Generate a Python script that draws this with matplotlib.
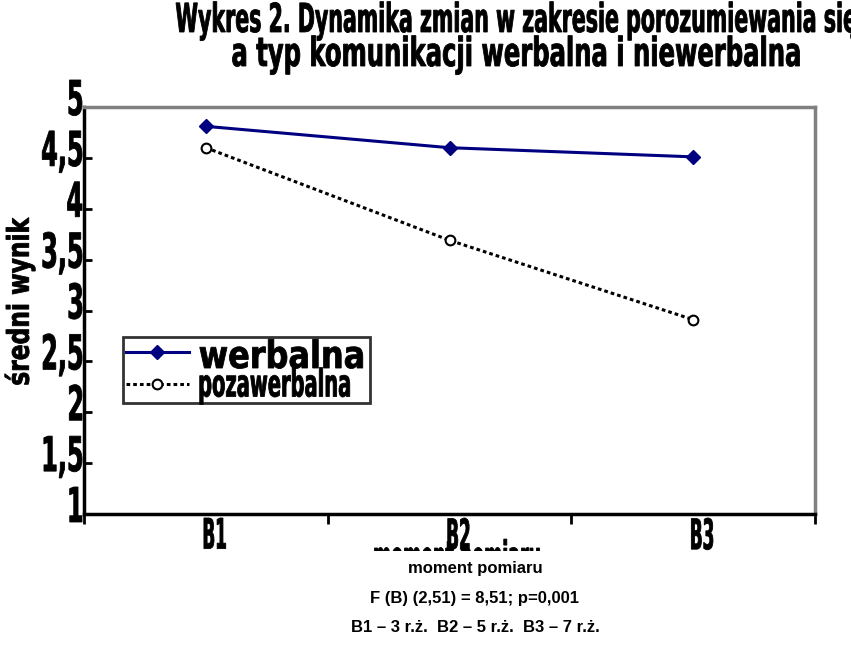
import matplotlib
matplotlib.use("Agg")
import matplotlib.pyplot as plt
from matplotlib.textpath import TextPath
from matplotlib.patches import PathPatch, Rectangle
from matplotlib.font_manager import FontProperties
from matplotlib.transforms import Affine2D

# data
categories = ["B1", "B2", "B3"]
series_names = ["werbalna", "pozawerbalna"]
werbalna = [4.81, 4.60, 4.51]
pozawerbalna = [4.60, 3.69, 2.91]
y_ticks = [1, 1.5, 2, 2.5, 3, 3.5, 4, 4.5, 5]
y_tick_labels = ["1", "1,5", "2", "2,5", "3", "3,5", "4", "4,5", "5"]
title_lines = ["Wykres 2. Dynamika zmian w zakresie porozumiewania się",
               "a typ komunikacji werbalna i niewerbalna"]
notes = ["moment pomiaru", "F (B) (2,51) = 8,51; p=0,001",
         "B1 – 3 r.ż.  B2 – 5 r.ż.  B3 – 7 r.ż."]

W, H = 851, 652
BOLD = FontProperties(family="DejaVu Sans", weight="bold")

fig = plt.figure(figsize=(W / 100, H / 100), dpi=100)


def squeezed(s, x, y, em, width=None, sx=0.5, ha="center", va="baseline",
             rot=0, z=5):
    # very narrow bold text, drawn as a path in pixel coords (y from top)
    tp = TextPath((0, 0), s, size=100, prop=BOLD)
    bb = tp.get_extents()
    k = em / 100
    if width is not None:
        sx = width / (bb.width * k)
    dx = {"left": bb.x0, "center": (bb.x0 + bb.x1) / 2, "right": bb.x1}[ha]
    dy = {"baseline": 0, "bottom": bb.y0, "center": (bb.y0 + bb.y1) / 2,
          "top": bb.y1}[va]
    tr = (Affine2D().translate(-dx, -dy).scale(k * sx, k).rotate_deg(rot)
          .translate(x, H - y))
    fig.add_artist(PathPatch(tp, transform=tr, fc="black", ec="black",
                             lw=0.6, zorder=z))


left, right, top, bottom = 84, 815, 107, 514
ax = fig.add_axes([left / W, 1 - bottom / H, (right - left) / W,
                   (bottom - top) / H])

x = range(len(categories))
ax.plot(x, werbalna, color="#000080", lw=2.2, marker="D", ms=7,
        label=series_names[0])
ax.plot(x, pozawerbalna, color="black", lw=2.2, ls=(0, (1.2, 1)),
        marker="o", ms=7, mfc="white", mec="black", mew=1.5,
        label=series_names[1])

ax.set_xlim(-0.5, 2.5)
ax.set_ylim(1, 5)
ax.set_xticks([-0.5, 0.5, 1.5, 2.5])
ax.set_yticks(y_ticks)
ax.set_xticklabels([])
ax.set_yticklabels([])
ax.tick_params(axis="x", length=7, width=2, direction="out", color="black")
ax.tick_params(axis="y", length=6, width=2, direction="in", color="black")

for side in ["top", "right"]:
    ax.spines[side].set_color("#808080")
    ax.spines[side].set_linewidth(2.5)
for side in ["left", "bottom"]:
    ax.spines[side].set_color("black")
    ax.spines[side].set_linewidth(2.5)

# tick labels, placed through the data transform
for v, lab in zip(y_ticks, y_tick_labels):
    ty = H - ax.transData.transform((0, v))[1]
    squeezed(lab, left - 2, ty + 8, 48, sx=0.5, ha="right")
for i, lab in enumerate(categories):
    tx = ax.transData.transform((i, 1))[0]
    squeezed(lab, tx + 9, 518, 42, sx=0.4, va="top")

# y axis label
squeezed("średni wynik", 20, 301, 30, width=167, va="center", rot=90)

# legend: frame and handles from matplotlib, text drawn narrow on top
leg = ax.legend(loc="center", bbox_to_anchor=(0.053, 0.262, 0.338, 0.184),
                mode="expand", prop={"size": 20}, frameon=True,
                fancybox=False, edgecolor="black", borderpad=0.1,
                handlelength=2.3, handletextpad=0.3, labelspacing=0.15,
                borderaxespad=0)
leg.get_frame().set_linewidth(2)
for t in leg.get_texts():
    t.set_color("none")
fig.canvas.draw()
for t, w in zip(leg.get_texts(), [163, 150]):
    bb = t.get_window_extent()
    squeezed(t.get_text(), bb.x0 + 2, H - (bb.y0 + bb.y1) / 2, 38, width=w,
             ha="left", va="center", z=6)

# title
squeezed(title_lines[0], 516, 32, 40, width=680)
squeezed(title_lines[1], 516, 66, 40, width=567)

# large axis title, mostly hidden behind the notes below
squeezed(notes[0], 457, 571, 42, width=165)
fig.add_artist(Rectangle((330, 0), 300, H - 551, transform=None,
                         fc="white", ec="none", zorder=7))
for s, yy in zip(notes, [568, 598, 628]):
    fig.text(475 / W, 1 - yy / H, s, ha="center", va="center",
             family="Liberation Sans", fontsize=12, fontweight="bold",
             zorder=8)

fig.savefig("out.png", dpi=100)
